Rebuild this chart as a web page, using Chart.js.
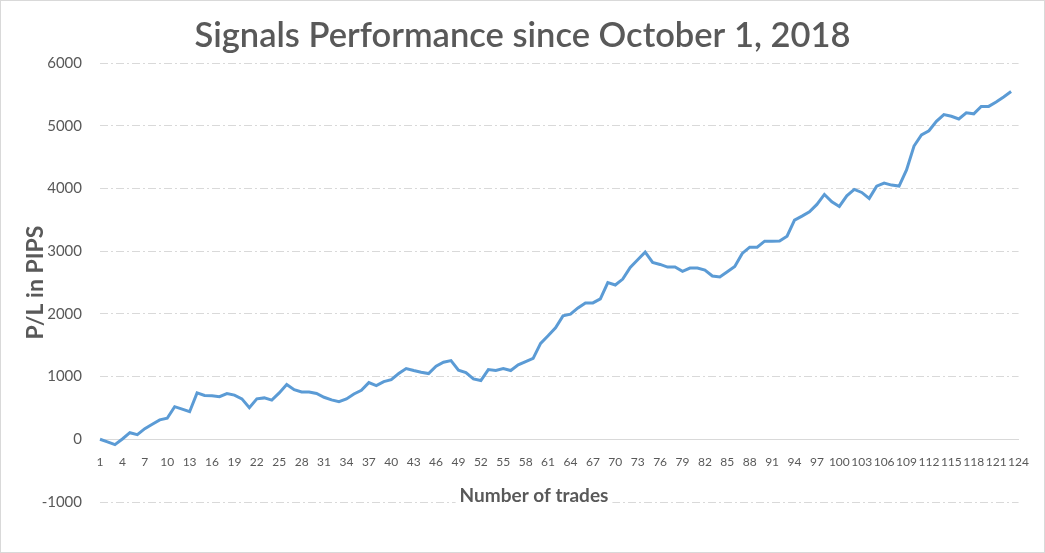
<!DOCTYPE html>
<html>
<head>
<meta charset="utf-8">
<script src="https://cdn.jsdelivr.net/npm/chart.js@4/dist/chart.umd.min.js"></script>
<style>
  html, body { margin: 0; padding: 0; background: #fff; }
  #wrap { width: 1045px; height: 553px; }
</style>
</head>
<body>
<div id="wrap"><canvas id="pipsChart" width="1045" height="553"></canvas></div>
<script>
// trade numbers on the x axis (1..124)
const tradeLabels = [];
for (let i = 1; i <= 124; i++) tradeLabels.push(String(i));

// cumulative P/L in pips
const pipsValues = [
    0, -40, -85, 5, 105, 75, 170, 240, 310, 335,
    520, 480, 440, 740, 700, 695, 680, 730, 705, 645,
    505, 645, 660, 625, 740, 875, 790, 755, 755, 730,
    670, 628, 601, 644, 723, 782, 904, 856, 920, 952,
    1048, 1128, 1096, 1069, 1048, 1165, 1229, 1255, 1101, 1064,
    963, 936, 1112, 1096, 1128, 1096, 1186, 1240, 1290, 1530,
    1650, 1778, 1968, 1995, 2095, 2175, 2175, 2238, 2497, 2460,
    2555, 2741, 2862, 2984, 2820, 2788, 2746, 2746, 2677, 2730,
    2730, 2698, 2603, 2587, 2672, 2756, 2963, 3063, 3063, 3159,
    3159, 3160, 3239, 3495, 3559, 3628, 3745, 3904, 3787, 3713,
    3883, 3984, 3936, 3841, 4037, 4085, 4053, 4037, 4295, 4676,
    4854, 4919, 5070, 5178, 5151, 5108, 5205, 5189, 5308, 5308,
    5378, 5459, 5545
];

const yMin = -1000;
const yMax = 6000;
const yStep = 1000;

const chartTitle = 'Signals Performance since October 1, 2018';
const xTitle = 'Number of trades';
const yTitle = 'P/L in PIPS';

const textColor = '#595959';
const gridColor = '#d9d9d9';
const fontFamily = 'Lato, "Open Sans", sans-serif';

// frame, main title centred on the picture, x title on a white patch
const decorations = {
    id: 'decorations',
    afterDraw(chart) {
        const ctx = chart.ctx;
        ctx.save();
        ctx.strokeStyle = gridColor;
        ctx.lineWidth = 1;
        ctx.strokeRect(0.5, 0.5, chart.width - 1, chart.height - 1);

        ctx.fillStyle = textColor;
        ctx.textAlign = 'center';
        ctx.textBaseline = 'alphabetic';
        ctx.font = '600 34.5px ' + fontFamily;
        ctx.fillText(chartTitle, chart.width / 2, 47);

        ctx.font = 'bold 19px ' + fontFamily;
        const w = ctx.measureText(xTitle).width;
        const cx = 534, cy = 496;
        ctx.fillStyle = '#fff';
        ctx.fillRect(cx - w / 2 - 4, cy - 11, w + 8, 22);
        ctx.fillStyle = textColor;
        ctx.textBaseline = 'middle';
        ctx.fillText(xTitle, cx, cy);
        ctx.restore();
    }
};

new Chart(document.getElementById('pipsChart').getContext('2d'), {
    type: 'line',
    data: {
        labels: tradeLabels,
        datasets: [{
            label: 'P/L',
            data: pipsValues,
            borderColor: '#5b9bd5',
            borderWidth: 3,
            pointRadius: 0,
            tension: 0,
            fill: false
        }]
    },
    options: {
        responsive: false,
        animation: false,
        layout: { padding: { left: 0, right: 17, top: 63, bottom: 51 } },
        plugins: {
            legend: { display: false },
            tooltip: { enabled: false },
            title: { display: false }
        },
        scales: {
            x: {
                position: { y: 0 },
                offset: false,
                grid: { display: false, drawTicks: false },
                border: { display: true, color: gridColor, width: 1 },
                ticks: {
                    autoSkip: false,
                    maxRotation: 0,
                    padding: 16,
                    color: textColor,
                    font: { family: fontFamily, size: 12 },
                    callback: (v, i) => (i % 3 === 0 ? tradeLabels[i] : null)
                }
            },
            y: {
                min: yMin,
                max: yMax,
                afterFit: (scale) => { scale.width = 100; },
                grid: { color: gridColor, lineWidth: 1, drawTicks: false },
                border: { display: false, dash: [8, 3, 2, 3] },
                ticks: {
                    stepSize: yStep,
                    padding: 18,
                    color: textColor,
                    font: { family: fontFamily, size: 15 },
                    callback: (v) => String(v)
                },
                title: {
                    display: true,
                    text: yTitle,
                    color: textColor,
                    font: { family: fontFamily, size: 23, weight: 'bold', lineHeight: 1.2 },
                    padding: { top: 22, bottom: 0 }
                }
            }
        }
    },
    plugins: [decorations]
});
</script>
</body>
</html>
